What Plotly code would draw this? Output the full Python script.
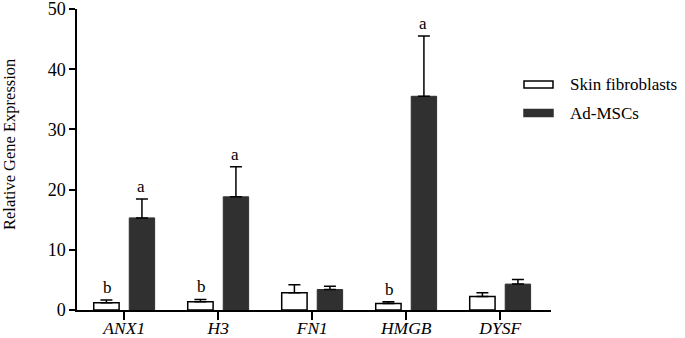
import plotly.graph_objects as go

genes = ["ANX1", "H3", "FN1", "HMGB", "DYSF"]
skin_vals = [1.2, 1.35, 2.85, 1.1, 2.25]
skin_err = [0.45, 0.4, 1.35, 0.25, 0.6]
ad_vals = [15.3, 18.8, 3.4, 35.5, 4.3]
ad_err = [3.15, 5.0, 0.55, 10.0, 0.75]
skin_letters = ["b", "b", "", "b", ""]
ad_letters = ["a", "a", "", "a", ""]
yticks = [0, 10, 20, 30, 40, 50]
y_title = "Relative Gene Expression"

FONT = "Liberation Serif, Times New Roman, serif"
tick_text = [f"<i>{g}</i>" for g in genes]

W, H = 685, 338
L, R, T, B = 77, 134, 9, 28
PW, PH = W - L - R, H - T - B


def px_x(x):
    return (x - L) / PW


def px_y(y):
    return (H - B - y) / PH


fig = go.Figure()
fig.add_trace(go.Bar(
    x=genes, y=skin_vals, name="Skin fibroblasts", showlegend=False,
    width=0.27, offset=-0.325,
    marker=dict(color="white", line=dict(color="black", width=1.5)),
    error_y=dict(type="data", symmetric=False, array=skin_err,
                 arrayminus=[0] * len(genes), color="black", thickness=1.5, width=6),
))
fig.add_trace(go.Bar(
    x=genes, y=ad_vals, name="Ad-MSCs", showlegend=False,
    width=0.27, offset=0.053,
    marker=dict(color="#303030", line=dict(color="#303030", width=1)),
    error_y=dict(type="data", symmetric=False, array=ad_err,
                 arrayminus=[0] * len(genes), color="black", thickness=1.5, width=6),
))

annotations = []
for g, v, e, t in zip(genes, skin_vals, skin_err, skin_letters):
    if t:
        annotations.append(dict(x=g, y=v + e, text=t, showarrow=False, xshift=-17,
                                yanchor="bottom", yshift=1,
                                font=dict(family=FONT, size=17, color="black")))
for g, v, e, t in zip(genes, ad_vals, ad_err, ad_letters):
    if t:
        annotations.append(dict(x=g, y=v + e, text=t, showarrow=False, xshift=17,
                                yanchor="bottom", yshift=1,
                                font=dict(family=FONT, size=17, color="black")))

# y-axis title
annotations.append(dict(xref="paper", yref="paper", x=px_x(9), y=px_y(145),
                        text=y_title, textangle=-90, showarrow=False,
                        xanchor="center", yanchor="middle",
                        font=dict(family=FONT, size=16.5, color="black")))

# manual legend
legend_items = [("Skin fibroblasts", "white"), ("Ad-MSCs", "#303030")]
shapes = []
leg_y = [84.5, 113]
for (name, col), yc in zip(legend_items, leg_y):
    shapes.append(dict(type="rect", xref="paper", yref="paper",
                       x0=px_x(524), x1=px_x(553),
                       y0=px_y(yc + 3.5), y1=px_y(yc - 3.5),
                       fillcolor=col, line=dict(color="black" if col == "white" else col, width=1.5)))
    annotations.append(dict(xref="paper", yref="paper", x=px_x(568),
                            y=px_y(yc), text=name, showarrow=False,
                            xanchor="left", yanchor="middle",
                            font=dict(family=FONT, size=17, color="black")))

fig.update_layout(
    width=W, height=H,
    margin=dict(l=L, r=R, t=T, b=B, autoexpand=False),
    plot_bgcolor="white", paper_bgcolor="white",
    barmode="overlay",
    font=dict(family=FONT, size=17, color="black"),
    annotations=annotations, shapes=shapes,
    xaxis=dict(type="category", range=[-0.503, 4.54], tickvals=genes, ticktext=tick_text,
               showline=True, linecolor="black", linewidth=1.5, ticks="outside",
               ticklen=8, tickwidth=1.5, tickcolor="black", showgrid=False,
               automargin=False, ticklabeloverflow="allow", ticklabelstandoff=-7,
               tickfont=dict(family=FONT, size=17.5)),
    yaxis=dict(range=[0, 50], tickvals=yticks, showline=True, linecolor="black",
               linewidth=1.5, ticks="outside", ticklen=6, tickwidth=1.5,
               tickcolor="black", showgrid=False, zeroline=False, automargin=False,
               ticklabeloverflow="allow",
               tickfont=dict(family=FONT, size=18)),
)

fig.write_html("out.html", config={"displayModeBar": False},
               post_script="document.body.style.margin='0';document.body.style.padding='0';")
